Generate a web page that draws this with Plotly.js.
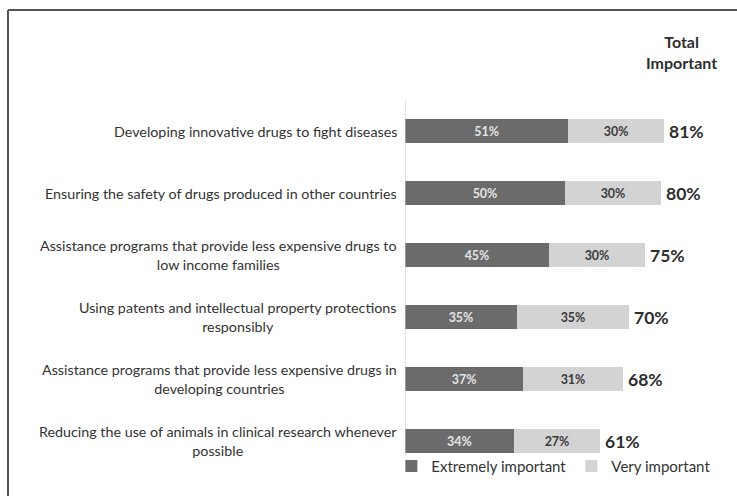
<!DOCTYPE html>
<html>
<head>
<meta charset="utf-8">
<script src="https://cdn.plot.ly/plotly-3.0.1.min.js"></script>
<style>
  html, body { margin: 0; padding: 0; background: #fff; }
  #chart { width: 737px; height: 496px; }
</style>
</head>
<body>
<div id="chart"></div>
<script>
const categories = [
  "Developing innovative drugs to fight diseases",
  "Ensuring the safety of drugs produced in other countries",
  "Assistance programs that provide less expensive drugs to<br>low income families",
  "Using patents and intellectual property protections<br>responsibly",
  "Assistance programs that provide less expensive drugs in<br>developing countries",
  "Reducing the use of animals in clinical research whenever<br>possible"
];
const extremelyImportant = [51, 50, 45, 35, 37, 34];
const veryImportant = [30, 30, 30, 35, 31, 27];
const totalImportant = [81, 80, 75, 70, 68, 61];
const seriesNames = ["Extremely important", "Very important"];
const totalHeader = "Total<br>Important";

const FONT = "Lato, 'Open Sans', sans-serif";

const traces = [
  {
    type: "bar", orientation: "h", name: seriesNames[0],
    y: categories, x: extremelyImportant,
    marker: { color: "#6b6b6b" },
    width: 0.38,
    texttemplate: "%{x}%", textposition: "inside", insidetextanchor: "middle",
    textfont: { family: FONT, size: 12.5, color: "#e4e4e4", weight: "bold" },
    hoverinfo: "none"
  },
  {
    type: "bar", orientation: "h", name: seriesNames[1],
    y: categories, x: veryImportant,
    marker: { color: "#d3d3d3" },
    width: 0.38,
    texttemplate: "%{x}%", textposition: "inside", insidetextanchor: "middle",
    textfont: { family: FONT, size: 12.5, color: "#3a3a3a", weight: "bold" },
    hoverinfo: "none"
  }
];

const annotations = [];
categories.forEach((c, i) => {
  annotations.push({
    xref: "paper", yref: "y", x: 0, y: c, xanchor: "right", yanchor: "middle",
    xshift: -6, align: "center", showarrow: false, text: c,
    font: { family: FONT, size: 14.3, color: "#333" }
  });
  annotations.push({
    xref: "x", yref: "y", x: totalImportant[i], y: c, xanchor: "left", yanchor: "middle",
    xshift: 3, showarrow: false, text: totalImportant[i] + "%",
    font: { family: FONT, size: 17.5, color: "#2e2e2e", weight: "bold" }
  });
});
annotations.push({
  xref: "paper", yref: "paper", x: 0.864, y: 1.129, xanchor: "center", yanchor: "middle",
  align: "center", showarrow: false, text: totalHeader,
  font: { family: FONT, size: 16, color: "#2e2e2e", weight: "bold" }
});

const layout = {
  width: 737, height: 496,
  margin: { l: 405, r: 12, t: 100, b: 24, autoexpand: false },
  paper_bgcolor: "#fff", plot_bgcolor: "#fff",
  barmode: "stack", bargap: 0.6,
  showlegend: true,
  legend: {
    orientation: "h", xref: "container", yref: "container",
    x: 0.972, xanchor: "right", y: 0.06, yanchor: "middle",
    font: { family: FONT, size: 15, color: "#333" },
    traceorder: "normal", itemwidth: 30, bgcolor: "rgba(0,0,0,0)"
  },
  xaxis: { range: [0, 100], showgrid: false, zeroline: false, showline: false,
           showticklabels: false, ticks: "", fixedrange: true },
  yaxis: { autorange: "reversed", showgrid: false, zeroline: false, showline: false,
           showticklabels: false, ticks: "", fixedrange: true },
  annotations: annotations,
  shapes: [
    { type: "line", xref: "x", yref: "paper", x0: 0, x1: 0, y0: 1.0, y1: 0.046,
      line: { color: "#c8c8c8", width: 1 } },
    { type: "line", xref: "paper", yref: "paper", x0: -1.2406, x1: 1.2, y0: 1.2419, y1: 1.2419,
      line: { color: "#555", width: 2 } },
    { type: "line", xref: "paper", yref: "paper", x0: -1.2406, x1: -1.2406, y0: 1.2419, y1: -0.2,
      line: { color: "#555", width: 2 } }
  ]
};

Plotly.newPlot("chart", traces, layout, { displayModeBar: false, staticPlot: true });
</script>
</body>
</html>
